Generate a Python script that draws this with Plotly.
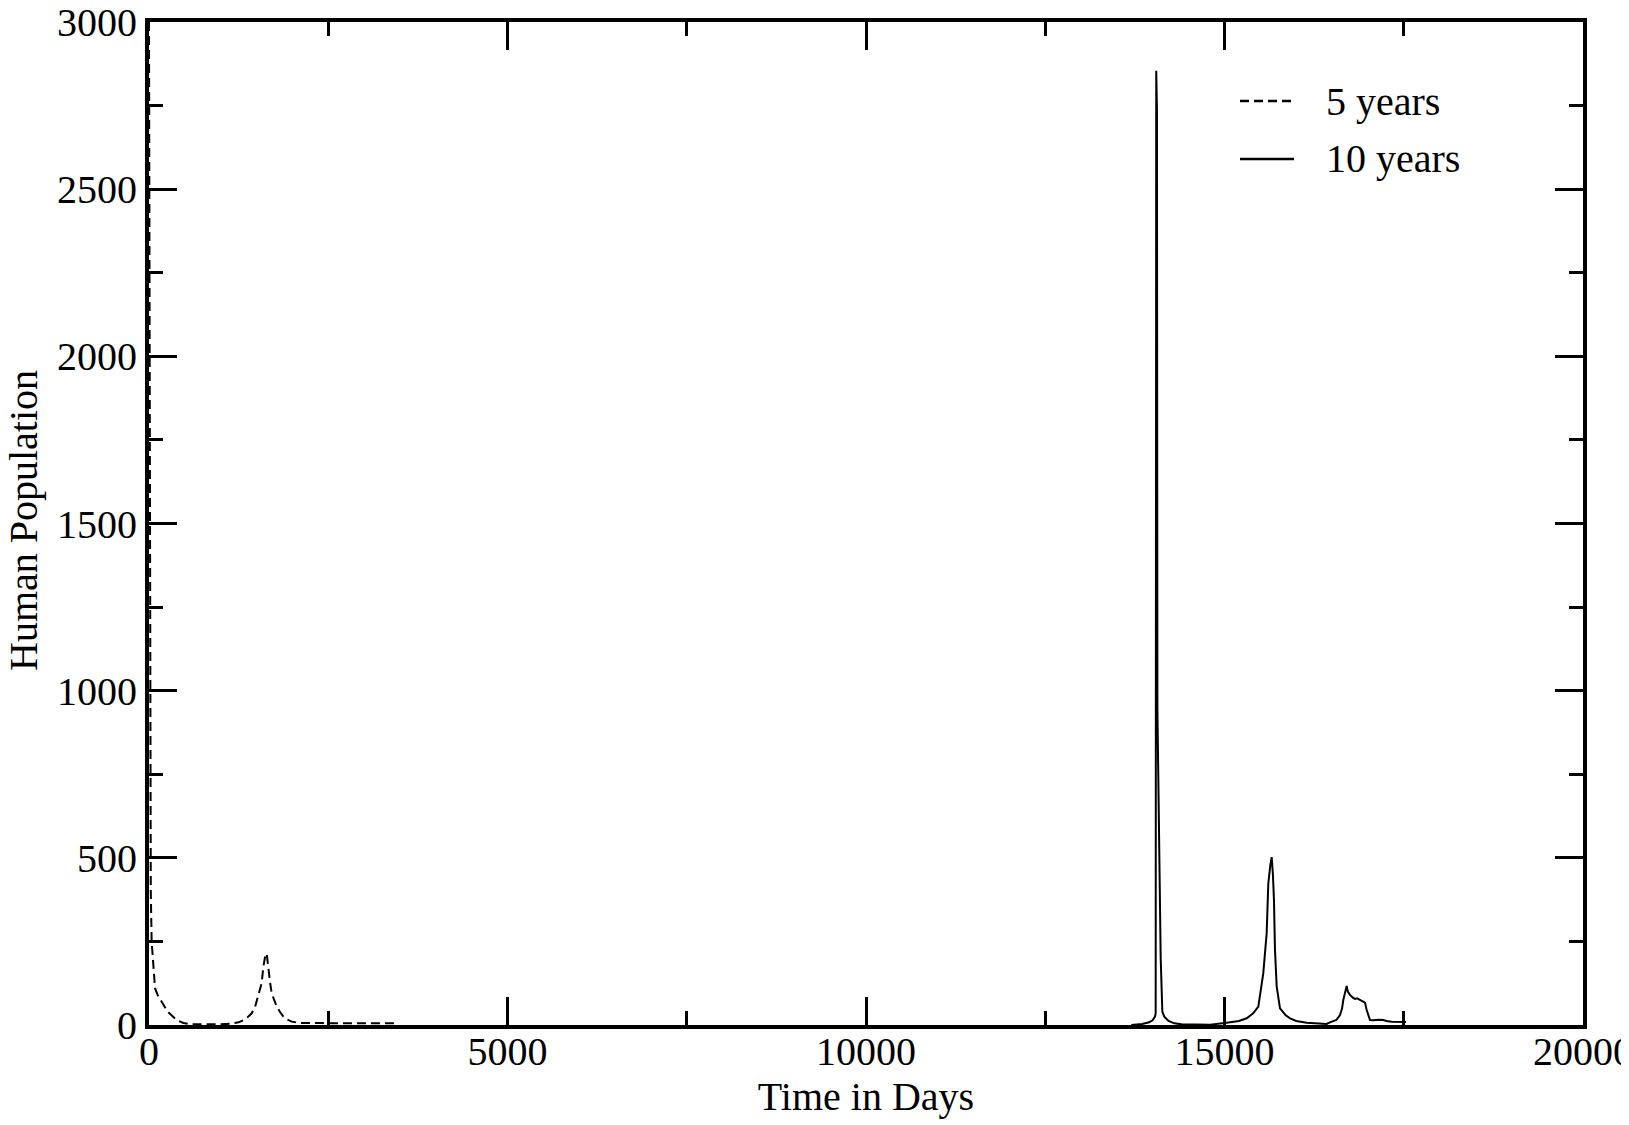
import plotly.graph_objects as go

# ---- data ----
x_5yr = [0, 8, 15, 25, 37, 60, 84, 120, 177, 260, 386, 480, 600, 800, 1000, 1150,
         1250, 1350, 1432, 1480, 1521, 1571, 1595, 1620, 1641, 1664, 1690, 1711,
         1745, 1781, 1830, 1874, 1930, 1990, 2100, 2500, 3000, 3450]
y_5yr = [3000, 1800, 800, 400, 250, 170, 110, 90, 70, 40, 15, 6, 2, 1, 2, 4,
         8, 18, 35, 55, 85, 125, 174, 205, 214, 164, 125, 95,
         72, 55, 38, 25, 16, 10, 6, 5, 5, 5]

x_10yr = [13700, 13850, 13950, 14000, 14030, 14040, 14048, 14058, 14064, 14080,
          14085, 14110, 14133, 14160, 14220, 14300, 14400, 14600, 14800, 15031,
          15200, 15310, 15400, 15472, 15541, 15588, 15611, 15640, 15658, 15675,
          15690, 15704, 15728, 15774, 15850, 15914, 16000, 16147, 16300, 16425,
          16471, 16560, 16611, 16640, 16657, 16680, 16704, 16720, 16750, 16790,
          16820, 16850, 16890, 16930, 16960, 16983, 17006, 17029, 17075, 17150,
          17215, 17260, 17331, 17400, 17531]
y_10yr = [0, 3, 8, 15, 25, 35, 2854, 2735, 950, 700,
          475, 200, 40, 25, 12, 5, 2, 1, 1, 7,
          12, 20, 35, 55, 155, 274, 424, 480, 502, 450,
          374, 224, 115, 50, 30, 20, 12, 7, 4, 3,
          8, 15, 30, 50, 75, 100, 117, 100, 90, 82,
          78, 80, 76, 70, 67, 45, 30, 15, 14, 16,
          15, 12, 10, 9, 9]

x_ticks = [0, 5000, 10000, 15000, 20000]
y_ticks = [0, 500, 1000, 1500, 2000, 2500, 3000]
series_names = ["5 years", "10 years"]
x_title = "Time in Days"
y_title = "Human Population"

FONT = "Liberation Serif, Times New Roman, serif"
FS = 40
DASH = "9px,5px"

# the page body has an 8px margin; compensate so the frame lands where the reference has it
OFF = 8
W, H = 1629 - OFF, 1125 - OFF
L, T = 149 - OFF, 22 - OFF
PW, PH = 1434, 1003
R, B = W - L - PW, H - T - PH

fig = go.Figure()
fig.add_trace(go.Scatter(x=x_5yr, y=y_5yr, mode="lines", name=series_names[0],
                         line=dict(color="black", width=2, dash=DASH), showlegend=False))
fig.add_trace(go.Scatter(x=x_10yr, y=y_10yr, mode="lines", name=series_names[1],
                         line=dict(color="black", width=2), showlegend=False))

axis_common = dict(
    showline=True, linecolor="black", linewidth=4, mirror="allticks",
    ticks="inside", ticklen=28, tickwidth=3, tickcolor="black",
    showgrid=False, zeroline=False, automargin=False,
    ticklabeloverflow="allow",
    tickfont=dict(family=FONT, size=FS, color="black"),
)

fig.update_xaxes(range=[0, 20000], tickvals=x_ticks, ticktext=[str(v) for v in x_ticks],
                 minor=dict(ticks="inside", ticklen=14, tickwidth=3, tickcolor="black", dtick=2500, tick0=0),
                 ticklabelstandoff=-12,
                 title=dict(text=x_title, font=dict(family=FONT, size=FS, color="black"), standoff=6),
                 **axis_common)
fig.update_yaxes(range=[0, 3000], tickvals=y_ticks, ticktext=[str(v) for v in y_ticks],
                 minor=dict(ticks="inside", ticklen=14, tickwidth=3, tickcolor="black", dtick=250, tick0=0),
                 **axis_common)

# positions in page px -> paper coords
def px_x(p):
    return (p - OFF - L) / PW

def px_y(p):
    return (H - B - (p - OFF)) / PH

shapes = []
annotations = [dict(xref="paper", yref="paper", x=px_x(23), y=px_y(521),
                    xanchor="center", yanchor="middle", textangle=-90, showarrow=False,
                    text=y_title, font=dict(family=FONT, size=FS, color="black"))]

# hand-drawn legend (long line samples as in the reference)
legend_rows = [(101, DASH), (159, "solid")]
for (py, dash), name in zip(legend_rows, series_names):
    shapes.append(dict(type="line", xref="paper", yref="paper",
                       x0=px_x(1240), x1=px_x(1294), y0=px_y(py), y1=px_y(py),
                       line=dict(color="black", width=2.5, dash=dash)))
    annotations.append(dict(xref="paper", yref="paper", x=px_x(1324), y=px_y(py),
                            xanchor="left", yanchor="middle", showarrow=False, text=name,
                            font=dict(family=FONT, size=FS, color="black")))

fig.update_layout(
    width=W, height=H,
    margin=dict(l=L, r=R, t=T, b=B),
    paper_bgcolor="white", plot_bgcolor="white",
    font=dict(family=FONT, size=FS, color="black"),
    showlegend=False,
    shapes=shapes,
    annotations=annotations,
)

fig.write_html("out.html")
